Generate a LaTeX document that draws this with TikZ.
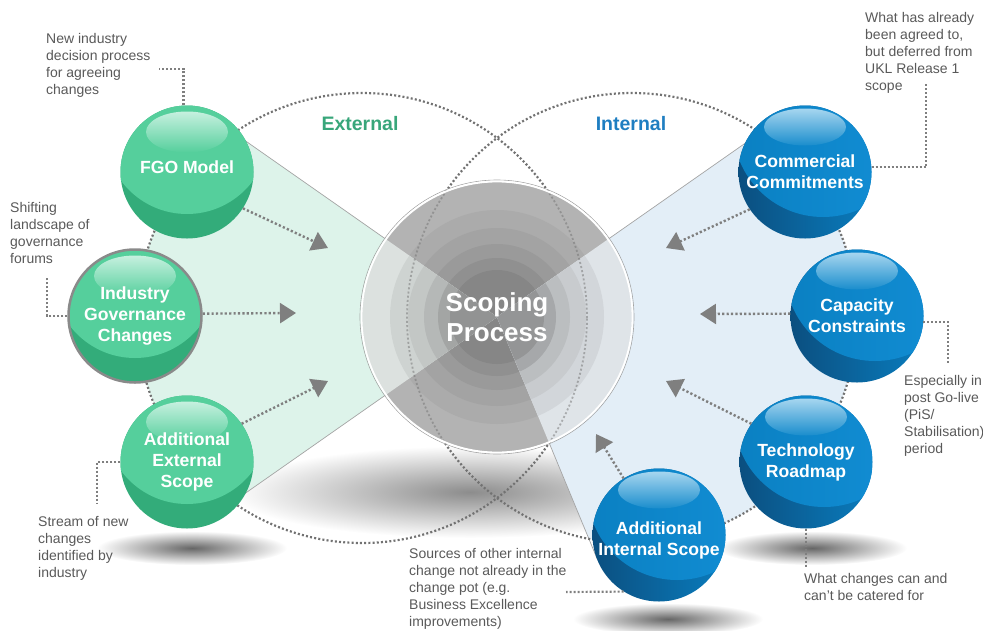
\documentclass[tikz,border=0pt]{standalone}
\usepackage{fontspec}
\setmainfont{Liberation Sans}
\usetikzlibrary{calc,arrows.meta}

\definecolor{gmain}{HTML}{55CF9C}
\definecolor{gdark}{HTML}{33AC7A}
\definecolor{ghi}{HTML}{C6F0DF}
\definecolor{bdarkL}{HTML}{0B4D7D}
\definecolor{bdarkR}{HTML}{0A7EC0}
\definecolor{bmainL}{HTML}{0A80C2}
\definecolor{bmainR}{HTML}{138FD6}
\definecolor{bhi}{HTML}{A6D6EF}
\definecolor{bhilow}{HTML}{1A8DCD}
\definecolor{gfill}{HTML}{DDF3EA}
\definecolor{bfill}{HTML}{E3EEF7}
\definecolor{dotgray}{HTML}{727272}
\definecolor{arrgray}{HTML}{7F7F7F}
\definecolor{anntext}{HTML}{595959}
\definecolor{extgreen}{HTML}{38A67A}
\definecolor{intblue}{HTML}{1F7EC1}
\definecolor{linegray}{HTML}{A4A4A4}
\definecolor{govgray}{HTML}{8A8A8A}
\definecolor{Da}{HTML}{B3B3B3}
\definecolor{Db}{HTML}{ABABAB}
\definecolor{Dc}{HTML}{A3A3A3}
\definecolor{Dd}{HTML}{9A9A9A}
\definecolor{De}{HTML}{909090}
\definecolor{Df}{HTML}{868686}
\definecolor{La}{HTML}{DCE1DF}
\definecolor{Lb}{HTML}{CED3D1}
\definecolor{Lc}{HTML}{C3C7C5}
\definecolor{Ld}{HTML}{B5B8B7}
\definecolor{Le}{HTML}{A3A5A4}
\definecolor{Lf}{HTML}{929393}
\definecolor{Ra}{HTML}{DFE4E8}
\definecolor{Rb}{HTML}{D2D6DA}
\definecolor{Rc}{HTML}{C8CBCE}
\definecolor{Rd}{HTML}{BBBEC0}
\definecolor{Re}{HTML}{A6A8AA}
\definecolor{Rf}{HTML}{949596}

\begin{document}
\begin{tikzpicture}[x=1pt,y=1pt,
  bubble/.style={circle, minimum size=133pt, inner sep=0pt, align=center, text=white,
    font=\bfseries\fontsize{17.6}{21}\selectfont},
  gball/.style={bubble, path picture={
    \fill[gdark] (path picture bounding box.center) circle (72pt);
    \fill[gmain] ($(path picture bounding box.center)+(0pt,40pt)$) circle (82pt);
    \shade[top color=ghi, bottom color=gmain] ($(path picture bounding box.center)+(0pt,40pt)$) ellipse (41pt and 20.5pt);
  }},
  bball/.style={bubble, path picture={
    \shade[left color=bdarkL, right color=bdarkR] (path picture bounding box.center) circle (72pt);
    \shade[left color=bmainL, right color=bmainR] ($(path picture bounding box.center)+(18pt,45pt)$) circle (90pt);
    \shade[top color=bhi, bottom color=bhilow] ($(path picture bounding box.center)+(0pt,45pt)$) ellipse (41pt and 18.5pt);
  }},
  flow/.style={draw=arrgray, line width=2.4pt, dash pattern=on 2.2pt off 2.2pt,
    -{Triangle[width=20pt,length=16pt]}},
  annot/.style={draw=arrgray, line width=2.2pt, dash pattern=on 2pt off 2pt},
  bigdots/.style={draw=dotgray, line width=2.2pt, dash pattern=on 2pt off 2.2pt},
  wedgeline/.style={draw=linegray, line width=0.7pt},
  ann/.style={anchor=north west, inner sep=0pt, align=left, text=anntext,
    font=\fontsize{14}{17}\selectfont},
  title/.style={font=\bfseries\fontsize{19.5}{22}\selectfont},
]
\useasboundingbox (0,-630) rectangle (983,0);
\coordinate (S) at (497,-317);
\coordinate (L) at (362,-318);
\coordinate (R) at (632,-318);

% shadows
\shade[inner color=black!45, outer color=white] (470,-492) ellipse (240pt and 46pt);
\shade[inner color=black!60, outer color=white] (192,-548) ellipse (95pt and 17pt);
\shade[inner color=black!60, outer color=white] (812,-548) ellipse (95pt and 17pt);
\shade[inner color=black!60, outer color=white] (668,-619) ellipse (95pt and 16pt);

% wedge fills
\begin{scope}
  \clip (L) circle (225pt);
  \fill[gfill] (S) -- ($(S)+(145:500pt)$) -- ($(S)+(215:500pt)$) -- cycle;
\end{scope}
\begin{scope}
  \clip (R) circle (225pt);
  \fill[bfill] (S) -- ($(S)+(35:600pt)$) -- ($(S)+(0:600pt)$) -- ($(S)+(-67.5:600pt)$) -- cycle;
\end{scope}
\draw[wedgeline] (S) -- ($(S)+(145:321pt)$);
\draw[wedgeline] (S) -- ($(S)+(215:321pt)$);
\draw[wedgeline] (S) -- ($(S)+(35:321pt)$);
\draw[wedgeline] (S) -- ($(S)+(-67.5:262pt)$);

% big dotted circles
\draw[bigdots] (L) circle (225pt);
\draw[bigdots] (R) circle (225pt);

% scoping circle
\fill[Da] (S) circle (135pt);
\fill[Db] (S) circle (107pt);
\fill[Dc] (S) circle (89pt);
\fill[Dd] (S) circle (73pt);
\fill[De] (S) circle (59pt);
\fill[Df] (S) circle (47pt);
\begin{scope}
  \clip (S) -- ($(S)+(145:200pt)$) -- ($(S)+(180:200pt)$) -- ($(S)+(215:200pt)$) -- cycle;
  \fill[La] (S) circle (135pt);
  \fill[Lb] (S) circle (107pt);
  \fill[Lc] (S) circle (89pt);
  \fill[Ld] (S) circle (73pt);
  \fill[Le] (S) circle (59pt);
  \fill[Lf] (S) circle (47pt);
\end{scope}
\begin{scope}
  \clip (S) -- ($(S)+(-67.5:200pt)$) -- ($(S)+(-16:200pt)$) -- ($(S)+(35:200pt)$) -- cycle;
  \fill[Ra] (S) circle (135pt);
  \fill[Rb] (S) circle (107pt);
  \fill[Rc] (S) circle (89pt);
  \fill[Rd] (S) circle (73pt);
  \fill[Re] (S) circle (59pt);
  \fill[Rf] (S) circle (47pt);
\end{scope}
\begin{scope}
  \clip (S) circle (134pt);
  \draw[bigdots, line width=1.8pt, draw opacity=0.5] (L) circle (225pt);
  \draw[bigdots, line width=1.8pt, draw opacity=0.5] (R) circle (225pt);
\end{scope}
\draw[draw=linegray, line width=0.6pt] (S) circle (137pt);
\draw[draw=white, line width=1.8pt] (S) circle (135.5pt);
\node[font=\bfseries\fontsize{26}{30}\selectfont, text=white, align=center] (sp) at (S) {Scoping\\Process};

% titles
\node[title, text=extgreen] (ext) at (360,-124) {External};
\node[title, text=intblue] (int) at (631,-124) {Internal};

% bubbles
\node[gball] (fgo) at (187,-172) {FGO Model\rule[-10pt]{0pt}{0pt}};
\node[gball, draw=govgray, line width=2.5pt] (gov) at (135,-316) {Industry\\Governance\\Changes};
\node[gball] (addext) at (187,-462) {Additional\\External\\Scope};
\node[bball] (comm) at (805,-172) {Commercial\\Commitments};
\node[bball] (cap) at (857,-316) {Capacity\\Constraints};
\node[bball] (tech) at (806,-462) {Technology\\Roadmap};
\node[bball] (addint) at (659,-535) {\rule{0pt}{24pt}Additional\\Internal Scope};

% arrows toward the scoping process
\coordinate (fgoT) at (328,-248);
\coordinate (govT) at (296,-313);
\coordinate (extT) at (328,-381);
\coordinate (commT) at (666,-248);
\coordinate (capT) at (700,-314);
\coordinate (techT) at (666,-381);
\coordinate (intT) at (596,-434);
\draw[flow] (fgo.-33) -- (fgoT);
\draw[flow] (gov.2) -- (govT);
\draw[flow] (addext.35) -- (extT);
\draw[flow] (comm.-146) -- (commT);
\draw[flow] (cap.178) -- (capT);
\draw[flow] (tech.145) -- (techT);
\draw[flow] (addint.122) -- (intT);

% annotation connectors
\coordinate (a1) at (159,-69);
\coordinate (a2) at (47,-278);
\coordinate (a3) at (97,-503);
\coordinate (a4) at (926,-83);
\coordinate (a5) at (948,-363);
\coordinate (a6) at (806,-567);
\coordinate (a7) at (566,-592);
\draw[annot] (fgo.93) |- (a1);
\draw[annot] (gov.west) -| (a2);
\draw[annot] (addext.west) -| (a3);
\draw[annot] (comm.4) -| (a4);
\draw[annot] (cap.-5) -| (a5);
\draw[annot] (tech.south) -- (a6);
\draw[annot] (addint.-122) -- (a7);

% annotation texts
\node[ann] (t1) at (46,-33) {New industry\\decision process\\for agreeing\\changes};
\node[ann] (t2) at (10,-202) {Shifting\\landscape of\\governance\\forums};
\node[ann] (t3) at (38,-516) {Stream of new\\changes\\identified by\\industry};
\node[ann] (t4) at (865,-12) {What has already\\been agreed to,\\but deferred from\\UKL Release 1\\scope};
\node[ann] (t5) at (904,-375) {Especially in\\post Go-live\\(PiS/\\Stabilisation)\\period};
\node[ann] (t6) at (804,-573) {What changes can and\\can't be catered for};
\node[ann] (t7) at (409,-548) {Sources of other internal\\change not already in the\\change pot (e.g.\\Business Excellence\\improvements)};
\end{tikzpicture}
\end{document}
